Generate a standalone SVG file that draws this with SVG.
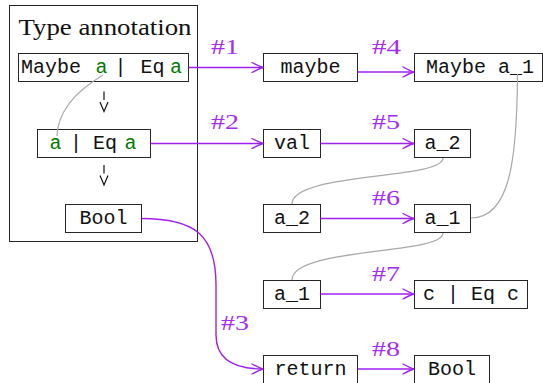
<svg xmlns="http://www.w3.org/2000/svg" width="543" height="383" viewBox="0 0 543 383">
  <style>
    .box { fill: #ffffff; stroke: #262626; stroke-width: 1; }
    .frame { fill: none; stroke: #262626; stroke-width: 1; }
    .tt { font-family: "Liberation Mono", "DejaVu Sans Mono", monospace; font-size: 20px; fill: #111111; }
    .var { fill: #007a00; }
    .title { font-family: "Liberation Serif", "DejaVu Serif", serif; font-size: 23px; fill: #111111; }
    .step { font-family: "Liberation Serif", "DejaVu Serif", serif; font-size: 21px; fill: #a52cf0; }
    .flow { fill: none; stroke: #a020f0; stroke-width: 1.4; marker-end: url(#tip); }
    .link { fill: none; stroke: #a9a9a9; stroke-width: 1.2; }
    .refine { fill: none; stroke: #111111; stroke-width: 1.2; }
  </style>
  <defs>
    <marker id="tip" markerUnits="userSpaceOnUse" markerWidth="16" markerHeight="14" viewBox="-13 -7 16 14" refX="0" refY="0" orient="auto">
      <path d="M-11,-5 Q-4,-1.2 0,0 Q-4,1.2 -11,5" fill="none" stroke="#a020f0" stroke-width="1.4" stroke-linecap="round" stroke-linejoin="round"/>
    </marker>
  </defs>

  <!-- annotation frame -->
  <g id="annotation">
    <rect class="frame" x="9.5" y="5.5" width="188" height="236"/>
    <text class="title" x="18.5" y="35" textLength="173" lengthAdjust="spacingAndGlyphs">Type annotation</text>
  </g>

  <g id="ann-maybe">
    <rect class="box" x="18.5" y="53.5" width="170" height="28"/>
    <text class="tt" y="73"><tspan x="21">Maybe</tspan><tspan class="var" x="95.5">a</tspan><tspan x="114.5">|</tspan><tspan x="140.5">Eq</tspan><tspan class="var" x="170">a</tspan></text>
  </g>

  <g id="ann-a">
    <rect class="box" x="37.5" y="129.5" width="113" height="28"/>
    <text class="tt" y="149"><tspan class="var" x="49.5">a</tspan><tspan x="70">|</tspan><tspan x="93">Eq</tspan><tspan class="var" x="124.5">a</tspan></text>
  </g>

  <g id="ann-bool">
    <rect class="box" x="65.5" y="204.5" width="76" height="28"/>
    <text class="tt" x="103.5" y="224" text-anchor="middle">Bool</text>
  </g>

  <g id="maybe">
    <rect class="box" x="263.5" y="53.5" width="94" height="28"/>
    <text class="tt" x="310.5" y="73" text-anchor="middle">maybe</text>
  </g>

  <g id="maybe-a1">
    <rect class="box" x="414.5" y="53.5" width="128" height="28"/>
    <text class="tt" x="426" y="73">Maybe a_1</text>
  </g>

  <g id="val">
    <rect class="box" x="263.5" y="129.5" width="57" height="28"/>
    <text class="tt" x="292" y="149" text-anchor="middle">val</text>
  </g>

  <g id="a2-right">
    <rect class="box" x="414.5" y="129.5" width="56" height="28"/>
    <text class="tt" x="442.5" y="149" text-anchor="middle">a_2</text>
  </g>

  <g id="a2-left">
    <rect class="box" x="263.5" y="204.5" width="57" height="28"/>
    <text class="tt" x="292" y="224" text-anchor="middle">a_2</text>
  </g>

  <g id="a1-right">
    <rect class="box" x="414.5" y="204.5" width="56" height="28"/>
    <text class="tt" x="442.5" y="224" text-anchor="middle">a_1</text>
  </g>

  <g id="a1-left">
    <rect class="box" x="263.5" y="280.5" width="57" height="28"/>
    <text class="tt" x="292" y="300" text-anchor="middle">a_1</text>
  </g>

  <g id="c-eq">
    <rect class="box" x="414.5" y="280.5" width="113" height="28"/>
    <text class="tt" x="471" y="300" text-anchor="middle">c | Eq c</text>
  </g>

  <g id="return">
    <rect class="box" x="263.5" y="355.5" width="94" height="28"/>
    <text class="tt" x="310.5" y="375" text-anchor="middle">return</text>
  </g>

  <g id="bool-result">
    <rect class="box" x="414.5" y="355.5" width="75" height="28"/>
    <text class="tt" x="452" y="375" text-anchor="middle">Bool</text>
  </g>

  <g id="connectors">
    <!-- refinement steps inside the annotation -->
    <line class="refine" x1="104" y1="91.5" x2="104" y2="100"/>
    <path class="refine" d="M100,102 L104,111.5 L108,102"/>
    <line class="refine" x1="104" y1="165" x2="104" y2="173.5"/>
    <path class="refine" d="M100,175.5 L104,185 L108,175.5"/>

    <!-- variable correspondences -->
    <path class="link" d="M103,75 C88,84 58,105 57,136"/>
    <path class="link" d="M517.5,74 C517,160 510,218 471,218"/>
    <path class="link" d="M443,158 C443,180 292,172 292,204"/>
    <path class="link" d="M443,233 C443,255 292,247 292,280"/>

    <!-- numbered steps -->
    <line class="flow" x1="188.5" y1="67.5" x2="263" y2="67.5"/>
    <line class="flow" x1="357.5" y1="72" x2="414" y2="72"/>
    <line class="flow" x1="150.5" y1="143.5" x2="263" y2="143.5"/>
    <line class="flow" x1="320.5" y1="143.5" x2="414" y2="143.5"/>
    <line class="flow" x1="320.5" y1="218.5" x2="414" y2="218.5"/>
    <line class="flow" x1="320.5" y1="294" x2="414" y2="294"/>
    <path class="flow" d="M141.5,218.5 C195,218.5 216,235 216,285 L216,335 C216,360 235,369 263,369"/>
    <line class="flow" x1="357.5" y1="369" x2="414" y2="369"/>

    <text class="step" x="211" y="53.5" textLength="28" lengthAdjust="spacingAndGlyphs">#1</text>
    <text class="step" x="211" y="129" textLength="28" lengthAdjust="spacingAndGlyphs">#2</text>
    <text class="step" x="221" y="330" textLength="28" lengthAdjust="spacingAndGlyphs">#3</text>
    <text class="step" x="372" y="54" textLength="29" lengthAdjust="spacingAndGlyphs">#4</text>
    <text class="step" x="372" y="129" textLength="28" lengthAdjust="spacingAndGlyphs">#5</text>
    <text class="step" x="372" y="205" textLength="28" lengthAdjust="spacingAndGlyphs">#6</text>
    <text class="step" x="372" y="281" textLength="28" lengthAdjust="spacingAndGlyphs">#7</text>
    <text class="step" x="372" y="356" textLength="28" lengthAdjust="spacingAndGlyphs">#8</text>
  </g>
</svg>
